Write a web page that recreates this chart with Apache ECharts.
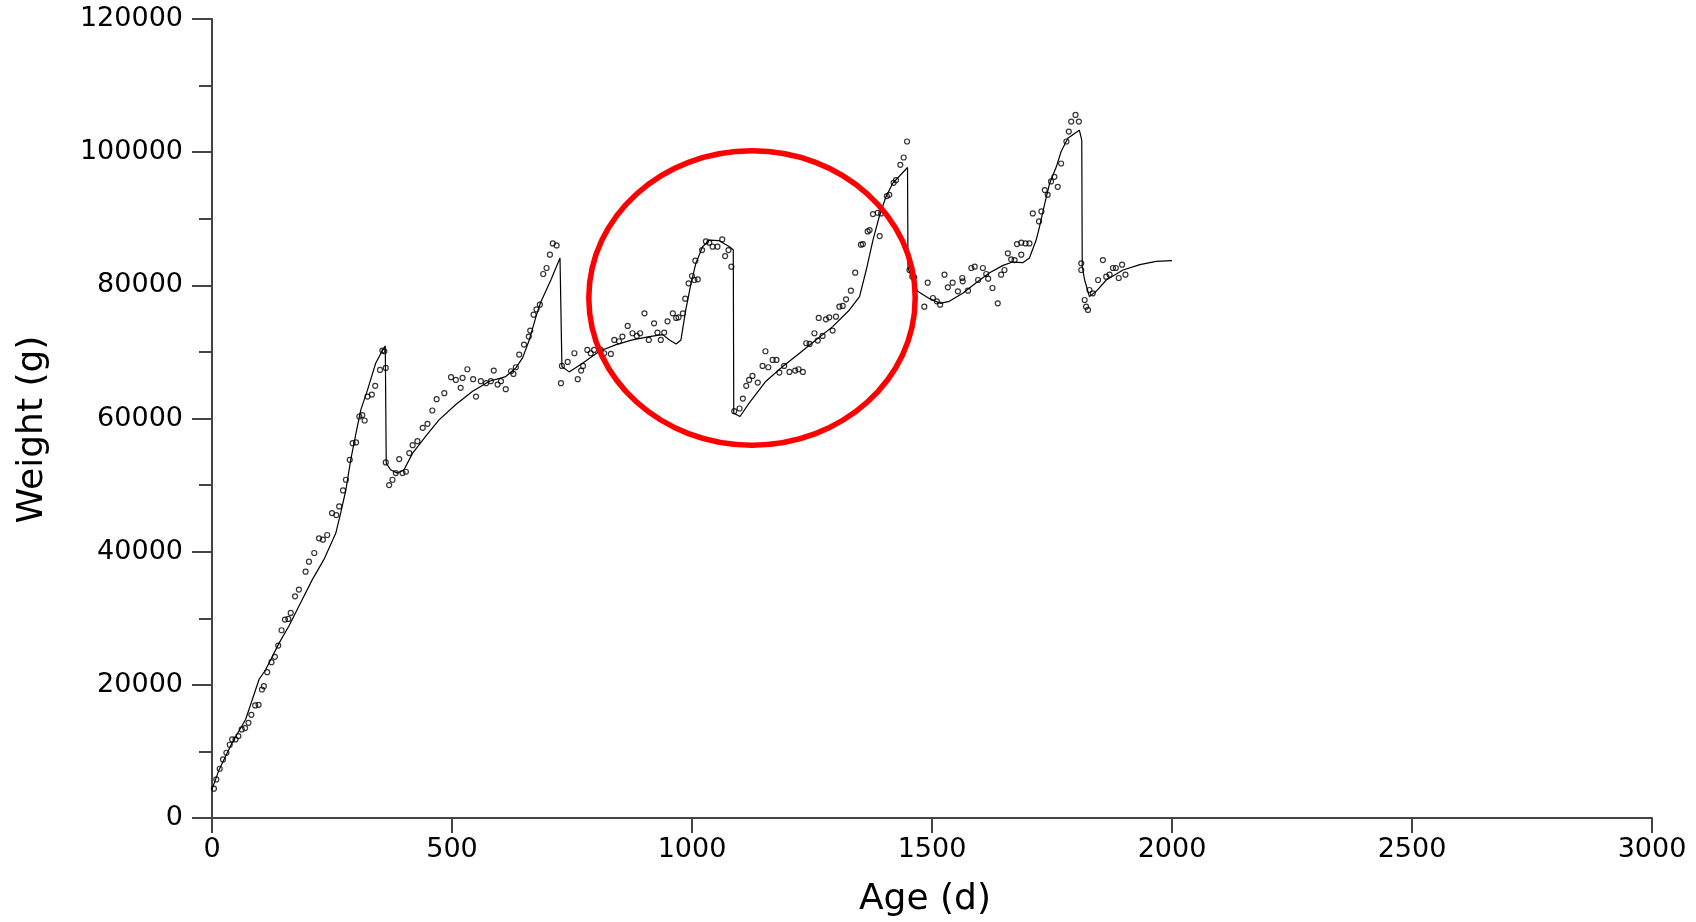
<!DOCTYPE html>
<html>
<head>
<meta charset="utf-8">
<script src="https://cdn.jsdelivr.net/npm/echarts@6/dist/echarts.min.js"></script>
<style>
  html, body { margin: 0; padding: 0; background: #ffffff; }
  #chart { width: 1696px; height: 922px; }
</style>
</head>
<body>
<div id="chart"></div>
<script>
// Axis ranges and tick steps
const ageRange = [0, 3000];
const ageStep = 500;
const weightRange = [0, 120000];
const weightStep = 20000;

// Measured body weights: [age (d), weight (g)]
const measured = [
  [4, 4400], [9, 5800], [16, 7400], [23, 8800], [30, 9800], [37, 11000], [42, 11800], [49, 11800],
  [55, 12300], [62, 13300], [69, 13500], [76, 14300], [82, 15500], [90, 16900], [97, 17000],
  [104, 19300], [108, 19800], [115, 21900], [124, 23400], [131, 24200], [138, 25900], [145, 28200],
  [152, 29800], [159, 29900], [164, 30800], [173, 33300], [181, 34300], [195, 37000], [202, 38500],
  [213, 39800], [223, 42000], [231, 41800], [240, 42500], [250, 45800], [259, 45500], [265, 46800],
  [273, 49200], [279, 50800], [287, 53800], [293, 56300], [300, 56400], [307, 60300], [313, 60500],
  [318, 59700], [324, 63300], [333, 63600], [340, 64900], [350, 67300], [362, 67600], [355, 70200],
  [359, 70100], [362, 53400], [369, 50000], [376, 50800], [383, 51800], [390, 53900], [397, 51800],
  [404, 52000], [411, 54800], [418, 56000], [428, 56600], [439, 58600], [449, 59200], [459, 61200],
  [468, 62900], [484, 63800], [498, 66200], [508, 65800], [518, 64600], [522, 66100], [532, 67400],
  [544, 65900], [550, 63300], [560, 65600], [571, 65300], [581, 65600], [587, 67200], [595, 65100],
  [602, 65600], [612, 64400], [623, 67100], [628, 66700], [633, 67700], [640, 69600], [650, 71100],
  [660, 72300], [663, 73200], [670, 75600], [676, 76400], [683, 77100], [690, 81700], [697, 82600],
  [704, 84600], [710, 86300], [718, 86000],
  [727, 65300], [729, 67900], [741, 68500], [755, 69800], [762, 65900], [769, 67200], [773, 67900],
  [782, 70300], [789, 69800], [796, 70300], [810, 70300], [817, 69800], [831, 69700], [838, 71800],
  [848, 71600], [855, 72300], [866, 73900], [876, 72800], [885, 72400], [892, 72800], [901, 75800],
  [910, 71800], [921, 74300], [928, 72900], [935, 71800], [942, 72900], [949, 74600], [960, 75800],
  [967, 75100], [972, 75200], [981, 75800], [986, 78000], [993, 80300], [1000, 81400], [1005, 80800],
  [1007, 83700], [1012, 80900], [1021, 85300], [1029, 86600], [1036, 86400], [1043, 85800],
  [1053, 85800], [1063, 86900], [1069, 84400], [1076, 85300], [1082, 82800],
  [1088, 61100], [1099, 61500], [1106, 63000], [1113, 64900], [1119, 65800], [1126, 66400],
  [1137, 65400], [1147, 67900], [1153, 70100], [1159, 67700], [1168, 68800], [1176, 68800],
  [1182, 66900], [1192, 67900], [1203, 67000], [1215, 67200], [1222, 67400], [1231, 67000],
  [1238, 71300], [1245, 71200], [1255, 72800], [1262, 71700], [1264, 75100], [1272, 72400],
  [1279, 74900], [1286, 75200], [1293, 73200], [1300, 75300], [1307, 76800], [1314, 76900],
  [1321, 77900], [1331, 79200], [1340, 81900], [1352, 86100], [1356, 86200], [1366, 88100],
  [1370, 88300], [1377, 90700], [1387, 90900], [1391, 87400], [1394, 90800], [1406, 93400],
  [1411, 93600], [1420, 95400], [1425, 95800], [1434, 98100], [1441, 99200], [1448, 101600],
  [1453, 82300], [1459, 81300], [1463, 81200], [1484, 76800], [1491, 80400], [1502, 78100],
  [1510, 77600], [1517, 77100], [1526, 81600], [1533, 79700], [1543, 80400], [1554, 79100],
  [1563, 81100], [1564, 80600], [1575, 79200], [1582, 82600], [1589, 82800], [1596, 80800],
  [1606, 82600], [1613, 81700], [1617, 81000], [1626, 79600], [1637, 77300], [1644, 81600],
  [1651, 82300], [1658, 84800], [1665, 83900], [1672, 83800], [1677, 86200], [1686, 86400],
  [1686, 84600], [1695, 86300], [1703, 86300], [1710, 90800], [1723, 89600], [1728, 91100],
  [1735, 94300], [1741, 93600], [1748, 95600], [1755, 96300], [1762, 94800], [1769, 98300],
  [1780, 101600], [1785, 103100], [1790, 104600], [1799, 105600], [1806, 104600],
  [1811, 83300], [1811, 82300], [1818, 77800], [1821, 76800], [1825, 76300], [1828, 79300],
  [1835, 78800], [1846, 80800], [1856, 83800], [1863, 81300], [1870, 81600], [1877, 82600],
  [1883, 82600], [1889, 81100], [1896, 83100], [1903, 81600]
];

// Fitted growth curve: [age (d), weight (g)]
const fitted = [
  [0, 4300], [15, 7300], [42, 11300], [70, 14800], [98, 20800], [112, 22300], [140, 26300],
  [160, 28800], [181, 31800], [209, 35800], [233, 38800], [258, 42800], [268, 45800], [279, 49300],
  [289, 53800], [300, 57800], [310, 61300], [324, 64300], [341, 68300], [352, 69800], [361, 70900],
  [363, 53300], [372, 52300], [386, 51800], [400, 52300], [418, 54800], [445, 57300], [473, 59800],
  [508, 62100], [543, 64100], [578, 65600], [612, 66300], [633, 67600], [647, 69100], [661, 71800],
  [675, 75300], [685, 77500], [706, 80800], [725, 84100], [729, 67800], [744, 67000], [772, 68300],
  [807, 70100], [842, 71100], [876, 71800], [911, 72300], [939, 72600], [953, 71800], [967, 71200],
  [977, 71800], [987, 76300], [998, 80300], [1008, 83300], [1022, 85800], [1036, 86800],
  [1057, 86700], [1078, 85800], [1086, 85300], [1087, 60800], [1100, 60300], [1119, 62300],
  [1154, 65600], [1189, 67800], [1224, 69800], [1258, 71800], [1293, 73800], [1328, 76300],
  [1349, 78300], [1363, 82300], [1377, 86800], [1390, 90300], [1404, 93300], [1418, 95300],
  [1449, 97700], [1450, 82600], [1457, 81300], [1470, 79100], [1495, 78000], [1517, 77300],
  [1536, 77600], [1564, 78800], [1592, 80400], [1620, 81900], [1648, 83000], [1668, 83500],
  [1689, 83400], [1703, 84100], [1717, 86800], [1724, 88800], [1735, 92300], [1745, 95300],
  [1759, 97800], [1769, 100100], [1783, 102100], [1797, 102800], [1807, 103300], [1812, 101800],
  [1813, 82800], [1818, 80800], [1828, 78300], [1842, 79100], [1863, 80800], [1898, 82300],
  [1933, 83100], [1967, 83600], [2000, 83700]
];

// Highlight ring around the third cycle: [centre age, centre weight, radius in days, radius in g]
const highlight = [[1125, 78100, 340, 22100]];

const FONT = 'DejaVu Sans';
const AXIS_COLOR = '#444444';

// Plain integers, no thousands separators
const plain = function (v) { return String(Math.round(v)); };

const chart = echarts.init(document.getElementById('chart'), null, { renderer: 'canvas' });

chart.setOption({
  animation: false,
  backgroundColor: '#ffffff',
  grid: { left: 212, right: 44, top: 19, bottom: 104, containLabel: false, outerBoundsMode: 'none' },
  xAxis: {
    type: 'value',
    min: ageRange[0], max: ageRange[1], interval: ageStep,
    name: 'Age (d)',
    nameLocation: 'middle',
    nameGap: 64,
    nameTextStyle: { fontFamily: FONT, fontSize: 36, color: '#000', padding: [0, 14, 0, 0] },
    axisLine: { show: true, onZero: false, lineStyle: { color: AXIS_COLOR, width: 2 } },
    axisTick: { show: true, inside: false, length: 15, lineStyle: { color: AXIS_COLOR, width: 2 } },
    minorTick: { show: false },
    axisLabel: { fontFamily: FONT, fontSize: 27, color: '#000', margin: 18, hideOverlap: false, formatter: plain },
    splitLine: { show: false }
  },
  yAxis: {
    type: 'value',
    min: weightRange[0], max: weightRange[1], interval: weightStep,
    name: 'Weight (g)',
    nameLocation: 'middle',
    nameGap: 161,
    nameTextStyle: { fontFamily: FONT, fontSize: 36, color: '#000', padding: [0, 22, 0, 0] },
    axisLine: { show: true, onZero: false, lineStyle: { color: AXIS_COLOR, width: 2 } },
    axisTick: { show: true, inside: false, length: 20, lineStyle: { color: AXIS_COLOR, width: 2 } },
    minorTick: { show: true, splitNumber: 2, length: 13, lineStyle: { color: AXIS_COLOR, width: 2 } },
    axisLabel: { fontFamily: FONT, fontSize: 27, color: '#000', margin: 29, padding: [12, 0, 0, 0], hideOverlap: false, formatter: plain },
    splitLine: { show: false },
    minorSplitLine: { show: false }
  },
  series: [
    {
      name: 'Fitted',
      type: 'line',
      data: fitted,
      showSymbol: false,
      symbol: 'none',
      smooth: false,
      lineStyle: { color: '#000', width: 1.2 },
      z: 2
    },
    {
      name: 'Measured',
      type: 'scatter',
      data: measured,
      symbol: 'circle',
      symbolSize: 5,
      itemStyle: { color: 'rgba(0,0,0,0)', borderColor: '#000', borderWidth: 1.2 },
      z: 3
    },
    {
      name: 'Highlight',
      type: 'custom',
      silent: true,
      clip: false,
      z: 4,
      data: highlight,
      renderItem: function (params, api) {
        const c = api.coord([api.value(0), api.value(1)]);
        const s = api.size([api.value(2), api.value(3)]);
        return {
          type: 'ellipse',
          shape: { cx: c[0], cy: c[1], rx: s[0], ry: s[1] },
          style: { fill: 'none', stroke: '#ff0000', lineWidth: 5.5 }
        };
      }
    }
  ]
});
</script>
</body>
</html>
